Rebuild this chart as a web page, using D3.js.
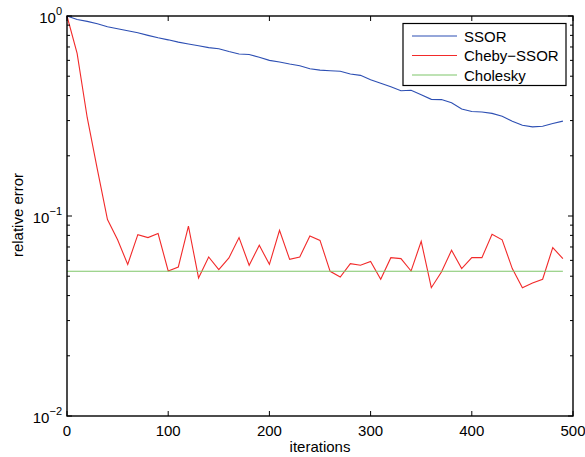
<!DOCTYPE html>
<html>
<head>
<meta charset="utf-8">
<script src="https://cdn.jsdelivr.net/npm/d3@7"></script>
<style>
  body { margin: 0; background: #fff; }
  text { font-family: "Liberation Sans", Arial, Helvetica, sans-serif; }
</style>
</head>
<body>
<div id="vis"></div>
<script>
var width = 585,
    height = 457,
    margin = {top: 16, right: 12, bottom: 41, left: 67};

// iterations sampled every 10 steps
var iterations = d3.range(0, 500, 10);

var ssor = [1.0, 0.96, 0.94, 0.914, 0.883, 0.863, 0.843, 0.824, 0.80, 0.778,
            0.76, 0.74, 0.725, 0.71, 0.695, 0.686, 0.664, 0.646, 0.642, 0.622,
            0.60, 0.589, 0.575, 0.564, 0.545, 0.536, 0.532, 0.529, 0.513, 0.505,
            0.48, 0.461, 0.443, 0.423, 0.425, 0.404, 0.383, 0.382, 0.368, 0.343,
            0.333, 0.331, 0.326, 0.315, 0.298, 0.284, 0.279, 0.281, 0.290, 0.298];

var chebySsor = [1.0, 0.65, 0.31, 0.171, 0.096, 0.076, 0.0573, 0.0807, 0.078, 0.0817,
                 0.0531, 0.0556, 0.089, 0.049, 0.0624, 0.054, 0.0617, 0.078, 0.0567, 0.0714,
                 0.0573, 0.0848, 0.0607, 0.0624, 0.0794, 0.0755, 0.0529, 0.0495, 0.0578, 0.0567,
                 0.0593, 0.0483, 0.0619, 0.0612, 0.0531, 0.0747, 0.0438, 0.0525, 0.0674, 0.0546,
                 0.0619, 0.0619, 0.081, 0.076, 0.0546, 0.0438, 0.0462, 0.0483, 0.0695, 0.0612];

var cholesky = iterations.map(function() { return 0.0529; });

var xTicks = [0, 100, 200, 300, 400, 500],
    yDecades = [0, -1, -2];

var series = [
  {name: "SSOR", values: ssor, color: "#2d4fb3"},
  {name: "Cheby\u2212SSOR", values: chebySsor, color: "#f22a2a"},
  {name: "Cholesky", values: cholesky, color: "#7fc66a"}
];

var svg = d3.select("#vis").append("svg")
    .attr("width", width)
    .attr("height", height);

var w = 573 - margin.left,
    h = 416 - margin.top;

var x = d3.scaleLinear().domain([0, 500]).range([0, w]);
var y = d3.scaleLog().domain([0.01, 1]).range([h, 0]);

var g = svg.append("g")
    .attr("transform", "translate(" + margin.left + "," + margin.top + ")");

// lines
var line = d3.line()
    .x(function(d, i) { return x(iterations[i]); })
    .y(function(d) { return y(d); });

g.selectAll(".series").data(series).enter()
  .append("path")
    .attr("class", "series")
    .attr("d", function(s) { return line(s.values); })
    .attr("fill", "none")
    .attr("stroke", function(s) { return s.color; })
    .attr("stroke-width", 1.1);

// ticks pointing inward on all four sides
var minor = [];
[-2, -1].forEach(function(e) {
  d3.range(2, 10).forEach(function(m) { minor.push(m * Math.pow(10, e)); });
});
var tickLen = 5;

var ticks = g.append("g").attr("stroke", "#000").attr("stroke-width", 1);

xTicks.forEach(function(t) {
  ticks.append("line").attr("x1", x(t)).attr("x2", x(t)).attr("y1", h).attr("y2", h - tickLen);
  ticks.append("line").attr("x1", x(t)).attr("x2", x(t)).attr("y1", 0).attr("y2", tickLen);
});
yDecades.forEach(function(e) {
  var yy = y(Math.pow(10, e));
  ticks.append("line").attr("x1", 0).attr("x2", tickLen).attr("y1", yy).attr("y2", yy);
  ticks.append("line").attr("x1", w).attr("x2", w - tickLen).attr("y1", yy).attr("y2", yy);
});
minor.forEach(function(v) {
  var yy = y(v);
  ticks.append("line").attr("x1", 0).attr("x2", 3).attr("y1", yy).attr("y2", yy);
  ticks.append("line").attr("x1", w).attr("x2", w - 3).attr("y1", yy).attr("y2", yy);
});

// frame
g.append("rect")
    .attr("width", w)
    .attr("height", h)
    .attr("fill", "none")
    .attr("stroke", "#000")
    .attr("stroke-width", 1.4);

// x tick labels
g.selectAll(".xlabel").data(xTicks).enter()
  .append("text")
    .attr("x", function(t) { return x(t); })
    .attr("y", h + 20)
    .attr("text-anchor", "middle")
    .attr("font-size", 15)
    .text(function(t) { return t; });

// y tick labels 10^e
yDecades.forEach(function(e) {
  var t = g.append("text")
      .attr("x", -5)
      .attr("y", y(Math.pow(10, e)) + 7)
      .attr("text-anchor", "end")
      .attr("font-size", 15);
  t.append("tspan").text("10");
  t.append("tspan")
      .attr("dy", -8)
      .attr("font-size", 11)
      .text(e === 0 ? "0" : "\u2212" + (-e));
});

// axis titles
svg.append("text")
    .attr("x", 320)
    .attr("y", 452)
    .attr("text-anchor", "middle")
    .attr("font-size", 15)
    .text("iterations");

svg.append("text")
    .attr("transform", "translate(23,215) rotate(-90)")
    .attr("text-anchor", "middle")
    .attr("font-size", 15)
    .text("relative error");

// legend
var legend = svg.append("g").attr("transform", "translate(403,23.5)");
legend.append("rect")
    .attr("width", 163)
    .attr("height", 62)
    .attr("fill", "#fff")
    .attr("stroke", "#000")
    .attr("stroke-width", 1.2);

var rows = legend.selectAll(".row").data(series).enter()
  .append("g")
    .attr("transform", function(s, i) { return "translate(0," + (12.5 + i * 19.5) + ")"; });

rows.append("line")
    .attr("x1", 9).attr("x2", 54)
    .attr("stroke", function(s) { return s.color; })
    .attr("stroke-width", 1.1);

rows.append("text")
    .attr("x", 61)
    .attr("y", 5.5)
    .attr("font-size", 15)
    .text(function(s) { return s.name; });
</script>
</body>
</html>
